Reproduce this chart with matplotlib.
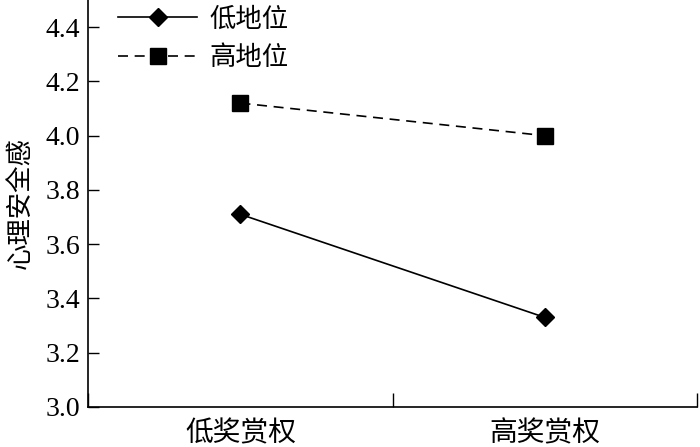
import matplotlib.pyplot as plt

plt.rcParams["font.family"] = ["Liberation Serif", "Noto Sans CJK SC"]

categories = ["低奖赏权", "高奖赏权"]
low_status = [3.71, 3.33]
high_status = [4.12, 4.00]
series_names = ["低地位", "高地位"]
y_ticks = [3.0, 3.2, 3.4, 3.6, 3.8, 4.0, 4.2, 4.4]

fig = plt.figure(figsize=(7, 4.47), dpi=100)
ax = fig.add_axes([0.126, 0.0895, 0.87, 0.9105])

x = list(range(len(categories)))
ax.plot(x, low_status, color="black", linewidth=1.2, marker="D", markersize=9.5,
        label=series_names[0])
ax.plot(x, high_status, color="black", linewidth=1.2, linestyle=(0, (6, 4)), marker="s",
        markersize=12, label=series_names[1])

ax.set_xlim(-0.5, len(categories) - 0.5)
ax.set_ylim(3.0, 4.5)
ax.set_yticks(y_ticks)
ax.set_yticklabels([f"{v:.1f}" for v in y_ticks])
ax.set_xticks([i - 0.5 for i in range(len(categories) + 1)])
ax.set_xticklabels([])
ax.set_xticks(x, minor=True)
ax.set_xticklabels(categories, minor=True, family=["Noto Sans CJK SC"])
ax.tick_params(axis="x", which="minor", length=0, labelsize=20, pad=8)
ax.tick_params(axis="x", which="major", direction="in", length=10, width=1)
ax.tick_params(axis="y", direction="in", length=8, width=1, labelsize=20, pad=6)

for s in ["top", "right"]:
    ax.spines[s].set_visible(False)
for s in ["left", "bottom"]:
    ax.spines[s].set_linewidth(1.2)

ax.set_ylabel("心理安全感", family=["Noto Sans CJK SC"], fontsize=19, labelpad=8)

ax.legend(loc="upper left", bbox_to_anchor=(0.01, 1.045), frameon=False,
          prop={"family": "Noto Sans CJK SC", "size": 19},
          handlelength=3.0, handletextpad=0.45, labelspacing=0.45)

fig.savefig("out.png", dpi=100)
